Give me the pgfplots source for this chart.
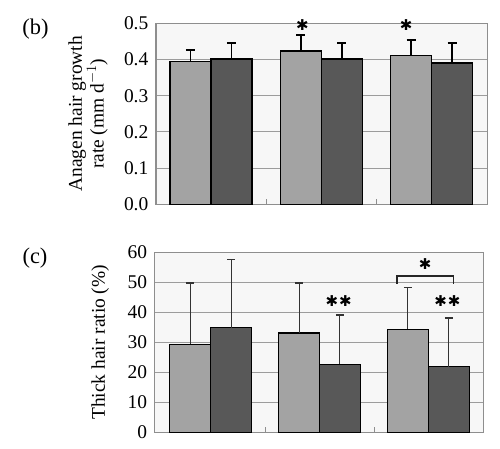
\documentclass[border=0pt]{standalone}
\usepackage{fontspec}
\setmainfont{Liberation Serif}
\newfontfamily\symfont{DejaVu Sans}
\usepackage{pgfplots}
\pgfplotsset{compat=1.18}

\definecolor{lightbar}{HTML}{A3A3A3}
\definecolor{darkbar}{HTML}{585858}
\definecolor{bgfill}{HTML}{F7F7F7}
\definecolor{framegrey}{HTML}{8E8E8E}
\definecolor{gridgrey}{HTML}{9C9C9C}

\newcommand{\sig}{{\symfont\fontsize{15}{15}\selectfont ✱}}

\pgfplotsset{
  panel/.style={
    scale only axis,
    ybar=0pt,
    bar width=41bp,
    clip=false,
    axis background/.style={fill=bgfill},
    axis line style={framegrey, line width=1.2bp},
    ymajorgrids,
    grid style={gridgrey, line width=0.9bp},
    tick align=inside,
    xtick={0.5,1.5},
    xticklabels={},
    xtick pos=bottom,
    ytick pos=left,
    major tick length=5bp,
    x tick style={framegrey, line width=0.9bp},
    y tick style={draw=none},
    yticklabel style={inner sep=0pt, xshift=-7.5bp},
    tick label style={font=\fontsize{19.5}{21}\selectfont},
    label style={font=\fontsize{19.5}{22}\selectfont, align=center},
    /pgf/number format/assume math mode=true,
    error bars/y dir=plus,
    error bars/y explicit,
    error bars/error mark=-,
  },
}

\begin{document}
\begin{tikzpicture}
\path[use as bounding box] (0,0) rectangle (500bp,-449bp);

\node[font=\fontsize{22.5}{24}\selectfont] at (35.5bp,-29bp) {(b)};
\node[font=\fontsize{22.5}{24}\selectfont] at (35bp,-258bp) {(c)};

% (b) anagen hair growth rate
\begin{axis}[
  panel,
  at={(156bp,-204.3bp)}, anchor=south west,
  width=331.3bp, height=181bp,
  xmin=-0.498, xmax=2.504,
  ymin=0, ymax=0.5,
  ytick={0,0.1,0.2,0.3,0.4,0.5},
  yticklabel style={/pgf/number format/.cd, fixed, fixed zerofill, precision=1},
  ylabel={Anagen hair growth\\rate (mm d$^{-1}$)},
  ylabel style={at={(axis description cs:-0.205,0.5)}, anchor=center},
  error bars/error bar style={black, line width=1.6bp},
  error bars/error mark options={rotate=90, black, line width=2bp, mark size=4.5bp},
]
\addplot[fill=lightbar, draw=black, line width=1.5bp, bar shift=-20.5bp]
  coordinates {(0,0.394) +- (0,0.033) (1,0.424) +- (0,0.044) (2,0.411) +- (0,0.042)};
\addplot[fill=darkbar, draw=black, line width=1.5bp, bar shift=20.5bp]
  coordinates {(0,0.402) +- (0,0.044) (1,0.402) +- (0,0.044) (2,0.390) +- (0,0.056)};
\node at (axis cs:1,0.495) [xshift=-19bp] {\sig};
\node at (axis cs:2,0.495) [xshift=-25.5bp] {\sig};
\end{axis}

% (c) thick hair ratio
\begin{axis}[
  panel,
  at={(154.7bp,-432.3bp)}, anchor=south west,
  width=328.6bp, height=180bp,
  xmin=-0.515, xmax=2.505,
  ymin=0, ymax=60,
  ytick={0,10,20,30,40,50,60},
  ylabel={Thick hair ratio (\%)},
  ylabel style={at={(axis description cs:-0.166,0.5)}, anchor=center},
  error bars/error bar style={black!80, line width=1bp},
  error bars/error mark options={rotate=90, black!80, line width=1.6bp, mark size=4bp},
]
\addplot[fill=lightbar, draw=black, line width=1.2bp, bar shift=-20.4bp]
  coordinates {(0,29.4) +- (0,20.4) (1,33.1) +- (0,16.7) (2,34.4) +- (0,13.9)};
\addplot[fill=darkbar, draw=black, line width=1.2bp, bar shift=20.4bp]
  coordinates {(0,34.9) +- (0,22.7) (1,22.7) +- (0,16.5) (2,21.9) +- (0,16.3)};
\node at (axis cs:1,43.7) [xshift=19bp] {\sig\kern1bp\sig};
\node at (axis cs:2,43.7) [xshift=19bp] {\sig\kern1bp\sig};
\draw[black!85, line width=1.1bp] (axis cs:1.712,49.6) -- (axis cs:1.712,52.1)
  -- (axis cs:2.227,52.1) -- (axis cs:2.227,49.6);
\node at (axis cs:1.97,56.2) {\sig};
\end{axis}
\end{tikzpicture}
\end{document}
